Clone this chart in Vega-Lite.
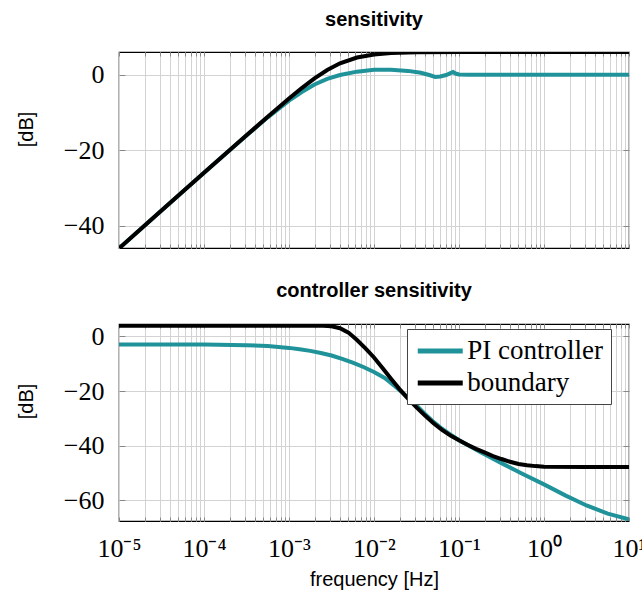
{
  "$schema": "https://vega.github.io/schema/vega-lite/v6.json",
  "padding": {"left": 15, "top": 8, "right": 0, "bottom": 0},
  "background": "white",
  "config": {
    "view": {"stroke": "black", "strokeWidth": 1.2},
    "axis": {"gridColor": "#d3d3d3", "gridWidth": 1, "domain": false, "tickColor": "#888", "labelFont": "Liberation Serif", "labelFontSize": 26, "labelColor": "black", "titleFont": "Liberation Sans", "titleFontSize": 20, "titleFontWeight": "normal", "titleColor": "black"},
    "title": {"font": "Liberation Sans", "fontSize": 20, "fontWeight": "bold", "color": "black"},
    "legend": {"orient": "none", "legendX": 288, "legendY": 5, "symbolType": "M-2,0H2", "symbolSize": 506, "symbolOffset": 11.25, "symbolStrokeWidth": 5, "labelFont": "Liberation Serif", "labelFontSize": 27, "labelColor": "black", "strokeColor": "#444", "fillColor": "white", "padding": 8, "labelOffset": 13, "rowPadding": 5}
  },
  "datasets": {
    "d": [
      {"p":"s","s":"PI controller","f":1e-5,"v":-46.0},
      {"p":"s","s":"PI controller","f":3.162e-5,"v":-36.0},
      {"p":"s","s":"PI controller","f":1e-4,"v":-26.0},
      {"p":"s","s":"PI controller","f":3.162e-4,"v":-16.1},
      {"p":"s","s":"PI controller","f":5.623e-4,"v":-11.3},
      {"p":"s","s":"PI controller","f":1e-3,"v":-6.9},
      {"p":"s","s":"PI controller","f":1.413e-3,"v":-4.6},
      {"p":"s","s":"PI controller","f":1.995e-3,"v":-2.6},
      {"p":"s","s":"PI controller","f":2.818e-3,"v":-1.1},
      {"p":"s","s":"PI controller","f":3.981e-3,"v":-0.1},
      {"p":"s","s":"PI controller","f":6.31e-3,"v":0.8},
      {"p":"s","s":"PI controller","f":0.01,"v":1.3},
      {"p":"s","s":"PI controller","f":0.01585,"v":1.3},
      {"p":"s","s":"PI controller","f":0.02512,"v":1.0},
      {"p":"s","s":"PI controller","f":0.03548,"v":0.5},
      {"p":"s","s":"PI controller","f":0.04467,"v":-0.1},
      {"p":"s","s":"PI controller","f":0.05248,"v":-0.6},
      {"p":"s","s":"PI controller","f":0.06026,"v":-0.5},
      {"p":"s","s":"PI controller","f":0.07079,"v":-0.1},
      {"p":"s","s":"PI controller","f":0.07943,"v":0.4},
      {"p":"s","s":"PI controller","f":0.08511,"v":0.7},
      {"p":"s","s":"PI controller","f":0.0912,"v":0.3},
      {"p":"s","s":"PI controller","f":0.1,"v":0.05},
      {"p":"s","s":"PI controller","f":0.1259,"v":0.0},
      {"p":"s","s":"PI controller","f":1,"v":0.0},
      {"p":"s","s":"PI controller","f":10,"v":0.0},
      {"p":"s","s":"boundary","f":1e-5,"v":-46.0},
      {"p":"s","s":"boundary","f":3.162e-5,"v":-36.0},
      {"p":"s","s":"boundary","f":1e-4,"v":-26.0},
      {"p":"s","s":"boundary","f":3.162e-4,"v":-16.07},
      {"p":"s","s":"boundary","f":5.623e-4,"v":-11.13},
      {"p":"s","s":"boundary","f":1e-3,"v":-6.3},
      {"p":"s","s":"boundary","f":1.413e-3,"v":-3.55},
      {"p":"s","s":"boundary","f":1.995e-3,"v":-1.0},
      {"p":"s","s":"boundary","f":2.818e-3,"v":1.21},
      {"p":"s","s":"boundary","f":3.981e-3,"v":3.0},
      {"p":"s","s":"boundary","f":6.31e-3,"v":4.54},
      {"p":"s","s":"boundary","f":0.01,"v":5.36},
      {"p":"s","s":"boundary","f":0.01585,"v":5.73},
      {"p":"s","s":"boundary","f":0.03162,"v":5.92},
      {"p":"s","s":"boundary","f":0.1,"v":5.99},
      {"p":"s","s":"boundary","f":1,"v":6.0},
      {"p":"s","s":"boundary","f":10,"v":6.0},
      {"p":"c","s":"PI controller","f":1e-5,"v":-3.0},
      {"p":"c","s":"PI controller","f":1e-4,"v":-3.0},
      {"p":"c","s":"PI controller","f":3.162e-4,"v":-3.2},
      {"p":"c","s":"PI controller","f":5.623e-4,"v":-3.5},
      {"p":"c","s":"PI controller","f":1e-3,"v":-4.2},
      {"p":"c","s":"PI controller","f":1.334e-3,"v":-4.7},
      {"p":"c","s":"PI controller","f":1.778e-3,"v":-5.3},
      {"p":"c","s":"PI controller","f":2.371e-3,"v":-6.1},
      {"p":"c","s":"PI controller","f":3.162e-3,"v":-7.0},
      {"p":"c","s":"PI controller","f":4.217e-3,"v":-8.2},
      {"p":"c","s":"PI controller","f":5.623e-3,"v":-9.6},
      {"p":"c","s":"PI controller","f":7.499e-3,"v":-11.2},
      {"p":"c","s":"PI controller","f":0.01,"v":-13.0},
      {"p":"c","s":"PI controller","f":0.01334,"v":-15.2},
      {"p":"c","s":"PI controller","f":0.01778,"v":-18.3},
      {"p":"c","s":"PI controller","f":0.02371,"v":-21.7},
      {"p":"c","s":"PI controller","f":0.03162,"v":-25.3},
      {"p":"c","s":"PI controller","f":0.03981,"v":-28.4},
      {"p":"c","s":"PI controller","f":0.05012,"v":-31.3},
      {"p":"c","s":"PI controller","f":0.0631,"v":-33.8},
      {"p":"c","s":"PI controller","f":0.07943,"v":-36.0},
      {"p":"c","s":"PI controller","f":0.1,"v":-38.0},
      {"p":"c","s":"PI controller","f":0.1778,"v":-42.3},
      {"p":"c","s":"PI controller","f":0.3162,"v":-46.4},
      {"p":"c","s":"PI controller","f":0.5623,"v":-50.4},
      {"p":"c","s":"PI controller","f":1,"v":-54.2},
      {"p":"c","s":"PI controller","f":1.778,"v":-58.2},
      {"p":"c","s":"PI controller","f":3.162,"v":-61.9},
      {"p":"c","s":"PI controller","f":5.623,"v":-64.9},
      {"p":"c","s":"PI controller","f":10,"v":-67.0},
      {"p":"c","s":"boundary","f":1e-5,"v":3.9},
      {"p":"c","s":"boundary","f":1e-3,"v":3.9},
      {"p":"c","s":"boundary","f":2.512e-3,"v":3.9},
      {"p":"c","s":"boundary","f":3.162e-3,"v":3.7},
      {"p":"c","s":"boundary","f":3.981e-3,"v":3.0},
      {"p":"c","s":"boundary","f":5.012e-3,"v":1.4},
      {"p":"c","s":"boundary","f":6.31e-3,"v":-1.3},
      {"p":"c","s":"boundary","f":7.943e-3,"v":-4.4},
      {"p":"c","s":"boundary","f":0.01,"v":-7.7},
      {"p":"c","s":"boundary","f":0.01259,"v":-11.6},
      {"p":"c","s":"boundary","f":0.01585,"v":-15.5},
      {"p":"c","s":"boundary","f":0.01995,"v":-19.3},
      {"p":"c","s":"boundary","f":0.02512,"v":-22.8},
      {"p":"c","s":"boundary","f":0.03162,"v":-26.0},
      {"p":"c","s":"boundary","f":0.03981,"v":-29.0},
      {"p":"c","s":"boundary","f":0.05012,"v":-31.8},
      {"p":"c","s":"boundary","f":0.0631,"v":-34.2},
      {"p":"c","s":"boundary","f":0.07943,"v":-36.3},
      {"p":"c","s":"boundary","f":0.1,"v":-38.0},
      {"p":"c","s":"boundary","f":0.1259,"v":-39.7},
      {"p":"c","s":"boundary","f":0.1585,"v":-41.2},
      {"p":"c","s":"boundary","f":0.1995,"v":-42.5},
      {"p":"c","s":"boundary","f":0.2512,"v":-43.8},
      {"p":"c","s":"boundary","f":0.3162,"v":-44.9},
      {"p":"c","s":"boundary","f":0.3981,"v":-45.9},
      {"p":"c","s":"boundary","f":0.5012,"v":-46.7},
      {"p":"c","s":"boundary","f":0.631,"v":-47.2},
      {"p":"c","s":"boundary","f":0.7943,"v":-47.5},
      {"p":"c","s":"boundary","f":1,"v":-47.7},
      {"p":"c","s":"boundary","f":3.162,"v":-47.8},
      {"p":"c","s":"boundary","f":10,"v":-47.8}
    ]
  },
  "data": {"name": "d"},
  "spacing": 30,
  "resolve": {"legend": {"color": "independent"}},
  "vconcat": [
    {
      "title": {"text": "sensitivity", "offset": 22},
      "width": 510,
      "height": 196,
      "transform": [{"filter": "datum.p == 's'"}],
      "layer": [
        {
          "mark": {"type": "line", "strokeWidth": 4, "clip": true},
          "encoding": {
            "x": {"field": "f", "type": "quantitative", "scale": {"type": "log", "domain": [1e-5, 10], "nice": false},
                  "axis": {"orient": "bottom", "title": null, "labels": false, "grid": true, "tickSize": -4,
                           "values": [1e-5,2e-5,3e-5,4e-5,5e-5,6e-5,7e-5,8e-5,9e-5,1e-4,2e-4,3e-4,4e-4,5e-4,6e-4,7e-4,8e-4,9e-4,0.001,0.002,0.003,0.004,0.005,0.006,0.007,0.008,0.009,0.01,0.02,0.03,0.04,0.05,0.06,0.07,0.08,0.09,0.1,0.2,0.3,0.4,0.5,0.6,0.7,0.8,0.9,1,2,3,4,5,6,7,8,9,10]}},
            "y": {"field": "v", "type": "quantitative", "scale": {"domain": [-45.9, 6.0], "nice": false, "zero": false},
                  "axis": {"values": [-40, -20, 0], "title": "[dB]", "titleX": -93, "titleY": 77, "titleAngle": -90, "titleAlign": "center", "titleBaseline": "middle", "tickSize": -6, "labelPadding": 21, "grid": true}},
            "color": {"field": "s", "type": "nominal", "scale": {"domain": ["PI controller", "boundary"], "range": ["#20939a", "#000000"]}, "legend": null}
          }
        },
        {
          "mark": {"type": "line", "strokeOpacity": 0},
          "encoding": {
            "x": {"field": "f", "type": "quantitative",
                  "axis": {"orient": "top", "title": null, "labels": false, "grid": false, "tickSize": -4,
                           "values": [1e-5,2e-5,3e-5,4e-5,5e-5,6e-5,7e-5,8e-5,9e-5,1e-4,2e-4,3e-4,4e-4,5e-4,6e-4,7e-4,8e-4,9e-4,0.001,0.002,0.003,0.004,0.005,0.006,0.007,0.008,0.009,0.01,0.02,0.03,0.04,0.05,0.06,0.07,0.08,0.09,0.1,0.2,0.3,0.4,0.5,0.6,0.7,0.8,0.9,1,2,3,4,5,6,7,8,9,10]}},
            "y": {"field": "v", "type": "quantitative", "axis": {"orient": "right", "values": [-40, -20, 0], "title": null, "labels": false, "grid": false, "tickSize": -6}}
          }
        }
      ],
      "resolve": {"axis": {"x": "independent", "y": "independent"}}
    },
    {
      "title": {"text": "controller sensitivity", "offset": 22},
      "width": 510,
      "height": 197,
      "transform": [{"filter": "datum.p == 'c'"}],
      "layer": [
        {
          "mark": {"type": "line", "strokeWidth": 4, "clip": true},
          "encoding": {
            "x": {"field": "f", "type": "quantitative", "scale": {"type": "log", "domain": [1e-5, 10], "nice": false},
                  "axis": {"orient": "bottom", "title": "frequency [Hz]", "grid": true, "tickSize": -4, "labelPadding": 18, "labelOverlap": false, "labelBound": false, "labelFlush": false, "titlePadding": 8,
                           "labelExpr": "datum.value == 1e-5 ? '10⁻⁵' : datum.value == 1e-4 ? '10⁻⁴' : datum.value == 0.001 ? '10⁻³' : datum.value == 0.01 ? '10⁻²' : datum.value == 0.1 ? '10⁻¹' : datum.value == 1 ? '10⁰' : datum.value == 10 ? '10¹' : ''",
                           "values": [1e-5,2e-5,3e-5,4e-5,5e-5,6e-5,7e-5,8e-5,9e-5,1e-4,2e-4,3e-4,4e-4,5e-4,6e-4,7e-4,8e-4,9e-4,0.001,0.002,0.003,0.004,0.005,0.006,0.007,0.008,0.009,0.01,0.02,0.03,0.04,0.05,0.06,0.07,0.08,0.09,0.1,0.2,0.3,0.4,0.5,0.6,0.7,0.8,0.9,1,2,3,4,5,6,7,8,9,10]}},
            "y": {"field": "v", "type": "quantitative", "scale": {"domain": [-67.6, 4.55], "nice": false, "zero": false},
                  "axis": {"values": [-60, -40, -20, 0], "title": "[dB]", "titleX": -93, "titleY": 77, "titleAngle": -90, "titleAlign": "center", "titleBaseline": "middle", "tickSize": -6, "labelPadding": 21, "grid": true}},
            "color": {"field": "s", "type": "nominal", "scale": {"domain": ["PI controller", "boundary"], "range": ["#20939a", "#000000"]}, "legend": {"title": null}}
          }
        },
        {
          "mark": {"type": "line", "strokeOpacity": 0},
          "encoding": {
            "x": {"field": "f", "type": "quantitative",
                  "axis": {"orient": "top", "title": null, "labels": false, "grid": false, "tickSize": -4,
                           "values": [1e-5,2e-5,3e-5,4e-5,5e-5,6e-5,7e-5,8e-5,9e-5,1e-4,2e-4,3e-4,4e-4,5e-4,6e-4,7e-4,8e-4,9e-4,0.001,0.002,0.003,0.004,0.005,0.006,0.007,0.008,0.009,0.01,0.02,0.03,0.04,0.05,0.06,0.07,0.08,0.09,0.1,0.2,0.3,0.4,0.5,0.6,0.7,0.8,0.9,1,2,3,4,5,6,7,8,9,10]}},
            "y": {"field": "v", "type": "quantitative", "axis": {"orient": "right", "values": [-60, -40, -20, 0], "title": null, "labels": false, "grid": false, "tickSize": -6}}
          }
        }
      ],
      "resolve": {"axis": {"x": "independent", "y": "independent"}}
    }
  ]
}
